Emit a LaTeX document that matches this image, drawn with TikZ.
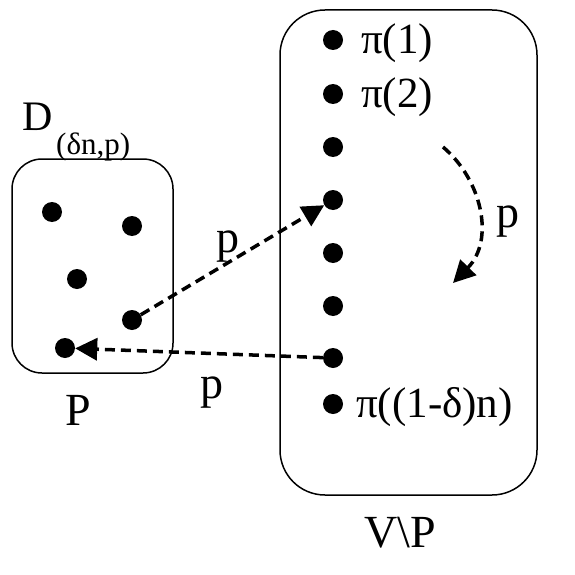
\documentclass[tikz,border=0pt]{standalone}
\usepackage{fontspec}
\setmainfont{Liberation Serif}
\usetikzlibrary{arrows.meta}
\begin{document}
\begin{tikzpicture}[x=1pt,y=-1pt,
  dotn/.style={circle,fill=black,inner sep=0pt,minimum size=20pt},
  box/.style={draw=black,line width=1.5pt,rounded corners=#1},
  dashar/.style={line width=3.5pt,dash pattern=on 10pt off 6pt,-{Triangle[length=22pt,width=22pt]}},
  lbl/.style={inner sep=0pt,anchor=base,font=\fontsize{46}{50}\selectfont},
  pil/.style={inner sep=0pt,anchor=base west,font=\fontsize{43}{46}\selectfont}]
\useasboundingbox (0,0) rectangle (575,575);
% boxes
\draw[box=30pt] (12,159) rectangle (173,373);
\draw[box=45pt] (280,10) rectangle (537,495);
% left dots
\node[dotn] (l1) at (52,212) {};
\node[dotn] (l2) at (132,226) {};
\node[dotn] (l3) at (77,279) {};
\node[dotn] (l4) at (132,320) {};
\node[dotn] (l5) at (65,348) {};
% right dots
\node[dotn] (r1) at (333,40) {};
\node[dotn] (r2) at (333,94) {};
\node[dotn] (r3) at (333,147) {};
\node[dotn] (r4) at (333,200) {};
\node[dotn] (r5) at (333,253) {};
\node[dotn] (r6) at (333,306) {};
\node[dotn] (r7) at (333,358) {};
\node[dotn] (r8) at (333,404) {};
% pi labels
\node[pil] (t1) at (361,54) {π(1)};
\node[pil] (t2) at (361,108) {π(2)};
\node[pil] (t8) at (356,417) {π((1-δ)n)};
% arrows
\draw[dashar] (l4) -- (r4);
\draw[dashar] (r7) -- (l5);
\coordinate (cs) at (443,147);
\coordinate (ce) at (453,283);
\draw[dashar] (cs) .. controls (482,180) and (495,240) .. (ce);
% labels
\node[lbl] (pa) at (228,252) {p};
\node[lbl] (pb) at (212,398) {p};
\node[lbl] (pc) at (508,227) {p};
\node[lbl] (P) at (78,425) {P};
\node[lbl] (VP) at (400,547) {V\textbackslash P};
\node[inner sep=0pt,anchor=base west,font=\fontsize{42}{46}\selectfont] (D) at (22,130) {D};
\node[inner sep=0pt,anchor=base west,font=\fontsize{31}{34}\selectfont] (Dsub) at (56,154) {(δn,p)};
\end{tikzpicture}
\end{document}
